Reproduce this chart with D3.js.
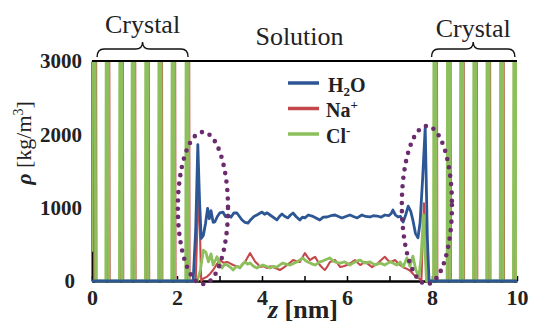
<!DOCTYPE html>
<html>
<head>
<meta charset="utf-8">
<script src="https://cdn.jsdelivr.net/npm/d3@7"></script>
<style>
  body { margin: 0; background: #fff; }
  svg { display: block; }
  svg text { font-family: "Liberation Serif", "Times New Roman", serif; }
</style>
</head>
<body>
<div id="chart"></div>
<script>
// density profiles, [z (nm), rho (kg/m3)]
var h2o = [
  [0.00, 0], [2.38, 0], [2.44, 700], [2.49, 1860], [2.53, 1100], [2.57, 580], [2.62, 620],
  [2.67, 780], [2.72, 990], [2.76, 850], [2.80, 960], [2.85, 800], [2.89, 805], [2.95, 880],
  [3.01, 930], [3.08, 940], [3.14, 880], [3.20, 900], [3.27, 870], [3.34, 930], [3.41, 927],
  [3.47, 880], [3.53, 832], [3.60, 800], [3.67, 790], [3.74, 840], [3.81, 880], [3.88, 900],
  [3.94, 920], [4.00, 940], [4.06, 910], [4.12, 930], [4.19, 900], [4.26, 870], [4.35, 832],
  [4.41, 880], [4.47, 914], [4.54, 880], [4.61, 860], [4.67, 900], [4.73, 927], [4.80, 880],
  [4.89, 832], [4.95, 870], [5.01, 860], [5.09, 900], [5.18, 886], [5.27, 860], [5.36, 832],
  [5.44, 870], [5.53, 873], [5.62, 890], [5.72, 900], [5.80, 880], [5.88, 860], [5.97, 880],
  [6.07, 900], [6.15, 880], [6.24, 860], [6.35, 900], [6.44, 880], [6.54, 873], [6.62, 890],
  [6.71, 886], [6.80, 870], [6.89, 900], [6.98, 890], [7.04, 920], [7.08, 968], [7.14, 900],
  [7.20, 873], [7.26, 880], [7.32, 805], [7.38, 900], [7.44, 1020], [7.50, 950], [7.55, 830],
  [7.61, 650], [7.67, 590], [7.72, 800], [7.78, 1400], [7.84, 2090], [7.89, 600], [7.93, 0],
  [10.0, 0]
];

var na = [
  [0.00, 0], [0.045, 0], [0.075, 11000], [0.105, 0],
  [0.355, 0], [0.385, 11000], [0.415, 0],
  [0.675, 0], [0.705, 11000], [0.735, 0],
  [0.965, 0], [0.995, 11000], [1.025, 0],
  [1.285, 0], [1.315, 11000], [1.345, 0],
  [1.595, 0], [1.625, 11000], [1.655, 0],
  [1.905, 0], [1.935, 11000], [1.965, 0],
  [2.235, 0], [2.265, 11000], [2.295, 0],
  [2.44, 0], [2.51, 1330], [2.57, 0], [2.61, 30], [2.71, 60], [2.78, 100], [2.85, 150],
  [2.94, 230], [3.01, 286], [3.09, 250], [3.18, 260], [3.25, 240], [3.32, 218], [3.40, 200],
  [3.48, 190], [3.54, 220], [3.60, 260], [3.66, 320], [3.72, 380], [3.78, 320], [3.84, 262],
  [3.90, 230], [3.95, 190], [4.04, 200], [4.12, 177], [4.19, 200], [4.26, 190], [4.34, 170],
  [4.42, 150], [4.50, 180], [4.59, 218], [4.66, 250], [4.73, 286], [4.81, 270], [4.89, 260],
  [4.95, 320], [5.01, 380], [5.07, 330], [5.13, 286], [5.19, 310], [5.25, 330], [5.30, 280],
  [5.36, 218], [5.42, 180], [5.48, 150], [5.54, 200], [5.60, 260], [5.66, 270], [5.72, 286],
  [5.78, 240], [5.84, 190], [5.92, 200], [6.00, 218], [6.10, 250], [6.19, 286], [6.25, 250],
  [6.31, 218], [6.37, 240], [6.42, 260], [6.50, 230], [6.59, 190], [6.66, 220], [6.73, 245],
  [6.81, 290], [6.89, 330], [6.95, 290], [7.01, 260], [7.07, 270], [7.13, 286], [7.19, 250],
  [7.25, 218], [7.30, 200], [7.36, 177], [7.41, 165], [7.46, 150], [7.52, 120], [7.58, 80],
  [7.64, 60], [7.69, 40], [7.75, 0], [7.81, 1060], [7.87, 0],
  [8.065, 0], [8.095, 11000], [8.125, 0],
  [8.385, 0], [8.415, 11000], [8.445, 0],
  [8.695, 0], [8.725, 11000], [8.755, 0],
  [9.005, 0], [9.035, 11000], [9.065, 0],
  [9.315, 0], [9.345, 11000], [9.375, 0],
  [9.635, 0], [9.665, 11000], [9.695, 0],
  [9.945, 0], [9.975, 11000], [10.0, 2000]
];

var cl = [
  [0.00, 400], [0.05, 12000], [0.085, 0],
  [0.325, 0], [0.36, 12000], [0.395, 0],
  [0.645, 0], [0.68, 12000], [0.715, 0],
  [0.935, 0], [0.97, 12000], [1.005, 0],
  [1.255, 0], [1.29, 12000], [1.325, 0],
  [1.565, 0], [1.60, 12000], [1.635, 0],
  [1.875, 0], [1.91, 12000], [1.945, 0],
  [2.205, 0], [2.24, 12000], [2.275, 0],
  [2.48, 0], [2.55, 150], [2.62, 420], [2.68, 390], [2.74, 260], [2.80, 370], [2.85, 218],
  [2.94, 330], [3.00, 240], [3.06, 177], [3.12, 230], [3.18, 218], [3.25, 190], [3.32, 150],
  [3.40, 200], [3.48, 177], [3.54, 230], [3.60, 260], [3.66, 230], [3.72, 245], [3.80, 200],
  [3.88, 177], [3.95, 200], [4.02, 218], [4.10, 200], [4.19, 177], [4.27, 200], [4.35, 190],
  [4.42, 220], [4.49, 245], [4.57, 230], [4.66, 218], [4.74, 240], [4.82, 260], [4.90, 290],
  [4.96, 315], [5.02, 280], [5.08, 260], [5.13, 245], [5.19, 230], [5.25, 218], [5.31, 240],
  [5.36, 260], [5.42, 270], [5.48, 286], [5.54, 300], [5.60, 315], [5.66, 280], [5.72, 260],
  [5.78, 250], [5.84, 245], [5.90, 255], [5.95, 260], [6.01, 240], [6.07, 218], [6.13, 240],
  [6.19, 260], [6.25, 275], [6.31, 286], [6.37, 260], [6.42, 245], [6.48, 255], [6.54, 260],
  [6.60, 240], [6.66, 218], [6.72, 230], [6.78, 245], [6.84, 230], [6.89, 218], [6.95, 240],
  [7.01, 260], [7.08, 245], [7.13, 230], [7.18, 218], [7.25, 260], [7.32, 190], [7.41, 315],
  [7.48, 200], [7.55, 340], [7.62, 150], [7.69, 60], [7.74, 300], [7.80, 900], [7.87, 0],
  [8.035, 0], [8.07, 12000], [8.105, 0],
  [8.355, 0], [8.39, 12000], [8.425, 0],
  [8.665, 0], [8.70, 12000], [8.735, 0],
  [8.975, 0], [9.01, 12000], [9.045, 0],
  [9.285, 0], [9.32, 12000], [9.355, 0],
  [9.605, 0], [9.64, 12000], [9.675, 0],
  [9.915, 0], [9.95, 12000], [9.985, 0], [10.0, 0]
];

var xTicks = [0, 1, 2, 3, 4, 5, 6, 7, 8, 9, 10];
var yTicks = [0, 1000, 2000, 3000];
var seriesNames = ["H2O", "Na+", "Cl-"];
// regions above the plot and the two interface loops
var regions = [
  {label: "Crystal", from: 0.12, to: 2.26},
  {label: "Crystal", from: 7.99, to: 9.95}
];
var loops = [
  {cz: 2.61, crho: 995, rz: 0.59, rrho: 1036},
  {cz: 7.88, crho: 1036, rz: 0.59, rrho: 1077}
];

var width = 536, height = 325;
var plotLeft = 92, plotRight = 517, plotTop = 61, plotBottom = 281;
var serif = "'Liberation Serif', 'Times New Roman', serif";
var colH2O = "#2c5694", colNa = "#c4484b", colCl = "#8dbf5c", colLoop = "#6b2c6e";

var svg = d3.select("#chart").append("svg")
    .attr("width", width)
    .attr("height", height);

var x = d3.scaleLinear().domain([0, 10]).range([plotLeft, plotRight]);
var y = d3.scaleLinear().domain([0, 3000]).range([plotBottom, plotTop]);

svg.append("clipPath").attr("id", "plotclip")
  .append("rect")
    .attr("x", plotLeft)
    .attr("y", plotTop)
    .attr("width", plotRight - plotLeft)
    .attr("height", plotBottom - plotTop + 3);

// axes
var xAxis = svg.append("g")
    .attr("transform", "translate(0," + plotBottom + ")")
    .call(d3.axisBottom(x).tickValues(xTicks)
        .tickSizeInner(-5).tickSizeOuter(0).tickPadding(8)
        .tickFormat(function(d) { return d % 2 ? "" : d; }));
xAxis.select(".domain").attr("stroke-width", 2.5);
xAxis.selectAll(".tick line").attr("stroke-width", 1.5);
xAxis.selectAll("text")
    .style("font-family", serif)
    .style("font-size", "22px")
    .style("font-weight", "bold")
    .attr("fill", "#222");

var yAxis = svg.append("g")
    .attr("transform", "translate(" + plotLeft + ",0)")
    .call(d3.axisLeft(y).tickValues(yTicks)
        .tickSizeInner(-4).tickSizeOuter(0).tickPadding(10)
        .tickFormat(d3.format("d")));
yAxis.select(".domain").attr("stroke-width", 2);
yAxis.selectAll(".tick line").attr("stroke-width", 1.5);
yAxis.selectAll("text")
    .style("font-family", serif)
    .style("font-size", "21px")
    .style("font-weight", "bold")
    .attr("fill", "#222");
yAxis.selectAll(".tick").filter(function(d) { return d === 0; })
    .select("text").attr("dx", -7);

// density lines
var line = d3.line()
    .x(function(d) { return x(d[0]); })
    .y(function(d) { return y(d[1]); });

var plot = svg.append("g").attr("clip-path", "url(#plotclip)");
plot.append("path").datum(na)
    .attr("d", line)
    .attr("fill", "none")
    .attr("stroke", colNa)
    .attr("stroke-width", 2.1)
    .attr("stroke-linejoin", "round");
plot.append("path").datum(cl)
    .attr("d", line)
    .attr("fill", "none")
    .attr("stroke", colCl)
    .attr("stroke-width", 2.8)
    .attr("stroke-linejoin", "round");
plot.append("path").datum(h2o)
    .attr("d", line)
    .attr("fill", "none")
    .attr("stroke", colH2O)
    .attr("stroke-width", 2.8)
    .attr("stroke-linejoin", "round");

// top border
svg.append("line")
    .attr("x1", plotLeft).attr("x2", plotRight)
    .attr("y1", plotTop).attr("y2", plotTop)
    .attr("stroke", "#000")
    .attr("stroke-width", 2);

// dotted loops around the interfaces
svg.selectAll("ellipse.loop")
    .data(loops).enter()
    .append("ellipse")
    .attr("class", "loop")
    .attr("cx", function(d) { return x(d.cz); })
    .attr("cy", function(d) { return y(d.crho); })
    .attr("rx", function(d) { return x(d.rz) - x(0); })
    .attr("ry", function(d) { return y(0) - y(d.rrho); })
    .attr("fill", "none")
    .attr("stroke", colLoop)
    .attr("stroke-width", 4.6)
    .attr("stroke-linecap", "round")
    .attr("stroke-dasharray", "0 8.4");

// braces and labels
function brace(x1, x2) {
  var m = (x1 + x2) / 2, yl = 49;
  return "M" + x1 + ",57 Q" + x1 + "," + yl + " " + (x1 + 7) + "," + yl +
    " L" + (m - 7) + "," + yl + " Q" + m + "," + yl + " " + m + ",42" +
    " Q" + m + "," + yl + " " + (m + 7) + "," + yl +
    " L" + (x2 - 7) + "," + yl + " Q" + x2 + "," + yl + " " + x2 + ",57";
}
svg.selectAll("path.brace")
    .data(regions).enter()
    .append("path")
    .attr("class", "brace")
    .attr("d", function(d) { return brace(x(d.from), x(d.to)); })
    .attr("fill", "none")
    .attr("stroke", "#111")
    .attr("stroke-width", 1.4);
svg.selectAll("text.region")
    .data(regions).enter()
    .append("text")
    .attr("class", "region")
    .attr("x", function(d) { return x((d.from + d.to) / 2); })
    .attr("y", function(d, i) { return i == 0 ? 33 : 37; })
    .attr("text-anchor", "middle")
    .attr("font-size", 26)
    .attr("fill", "#222")
    .text(function(d) { return d.label; });
svg.append("text")
    .attr("x", x(5) - 5)
    .attr("y", 45)
    .attr("text-anchor", "middle")
    .attr("font-size", 26)
    .attr("fill", "#222")
    .text("Solution");

// legend
var legend = svg.append("g").attr("transform", "translate(288,83)");
var legendCols = [colH2O, colNa, colCl];
legend.selectAll("line")
    .data(seriesNames).enter()
    .append("line")
    .attr("x1", 0).attr("x2", 31)
    .attr("y1", function(d, i) { return i * 25.5; })
    .attr("y2", function(d, i) { return i * 25.5; })
    .attr("stroke", function(d, i) { return legendCols[i]; })
    .attr("stroke-width", 3.5);
var ltext = legend.selectAll("text")
    .data(seriesNames).enter()
    .append("text")
    .attr("x", function(d, i) { return i == 0 ? 40 : 38; })
    .attr("y", function(d, i) { return i * 25.5 + 8.5; })
    .attr("font-size", 20)
    .attr("font-weight", "bold")
    .attr("fill", "#222");
ltext.each(function(d) {
  var t = d3.select(this);
  if (d == "H2O") {
    t.append("tspan").text("H");
    t.append("tspan").attr("font-size", 13).attr("dy", 4).text("2");
    t.append("tspan").attr("dy", -4).text("O");
  } else {
    t.append("tspan").text(d.slice(0, -1));
    t.append("tspan").attr("font-size", 13).attr("dy", -8).text(d.slice(-1));
  }
});

// axis titles
var yt = svg.append("text")
    .attr("transform", "translate(31,143) rotate(-90)")
    .attr("text-anchor", "middle")
    .attr("font-size", 22)
    .attr("fill", "#222");
yt.append("tspan").attr("font-weight", "bold").attr("font-style", "italic").text("ρ");
yt.append("tspan").text(" [kg/m");
yt.append("tspan").attr("font-size", 14).attr("dy", -8).text("3");
yt.append("tspan").attr("dy", 8).text("]");

var xt = svg.append("text")
    .attr("x", 303)
    .attr("y", 318)
    .attr("text-anchor", "middle")
    .attr("font-size", 26)
    .attr("font-weight", "bold")
    .attr("fill", "#222");
xt.append("tspan").attr("font-style", "italic").text("z");
xt.append("tspan").text(" [nm]");
</script>
</body>
</html>
